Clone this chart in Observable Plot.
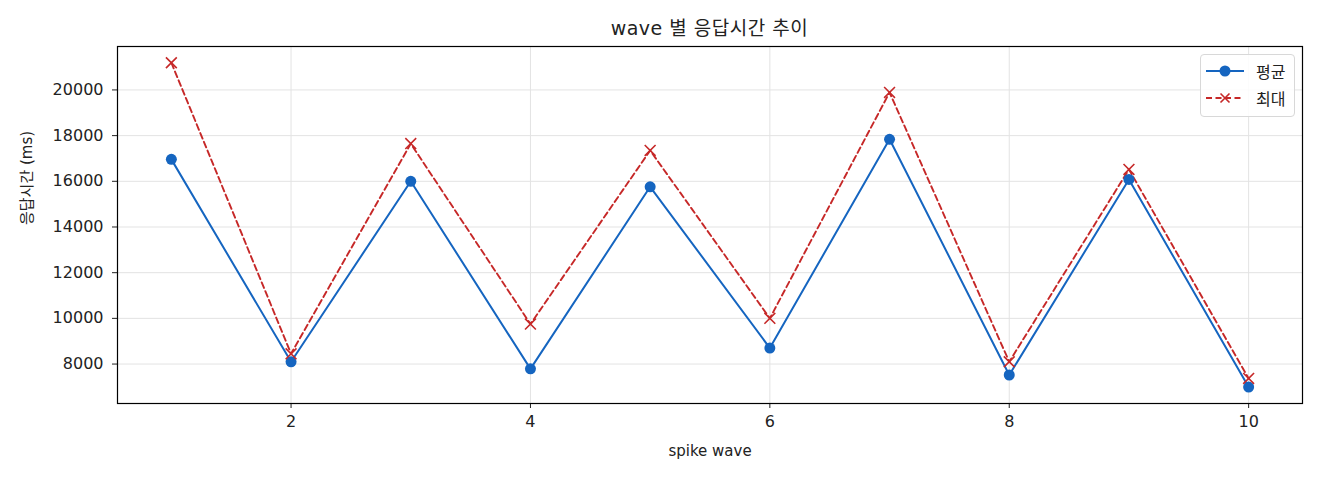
<!DOCTYPE html>
<html>
<head>
<meta charset="utf-8">
<script src="https://cdn.jsdelivr.net/npm/d3@7"></script>
<script src="https://cdn.jsdelivr.net/npm/@observablehq/plot@0.6"></script>
<style>
  body { margin: 0; background: #fff; }
  #wrap { position: relative; width: 1320px; height: 480px; font-family: "DejaVu Sans", "Noto Sans CJK KR", sans-serif; color: #222; }
  #title { position: absolute; left: 0; width: 1419px; top: 16px; text-align: center; font-size: 19px; line-height: 24px; letter-spacing: 0.5px; }
  #chart { position: absolute; left: 0; top: 40px; }
  #legend { position: absolute; left: 1200px; top: 54px; width: 93px; height: 61px; border: 1px solid #d8d8d8; border-radius: 4px; background: rgba(255,255,255,0.85); font-size: 16px; }
  .row { position: absolute; left: 0; height: 22px; display: flex; align-items: center; }
  .row svg { margin-left: 5px; }
  .row span { margin-left: 12px; font-family: "Noto Sans CJK KR", sans-serif; }
</style>
</head>
<body>
<div id="wrap">
  <div id="title">wave 별 응답시간 추이</div>
  <div id="chart"></div>
  <div id="legend">
    <div class="row" style="top:5px"><svg width="38" height="12"><line x1="0" y1="6" x2="38" y2="6" stroke="#1565c0" stroke-width="2"/><circle cx="19" cy="6" r="5.5" fill="#1565c0"/></svg><span>평균</span></div>
    <div class="row" style="top:32px"><svg width="38" height="12"><line x1="0" y1="6" x2="38" y2="6" stroke="#c62828" stroke-width="2" stroke-dasharray="6,3.5"/><path d="M14.5 1.5 L23.5 10.5 M23.5 1.5 L14.5 10.5" stroke="#c62828" stroke-width="1.6"/></svg><span>최대</span></div>
  </div>
</div>
<script>
const waves = [1, 2, 3, 4, 5, 6, 7, 8, 9, 10];
const avgMs = [16960, 8100, 16000, 7790, 15760, 8700, 17840, 7520, 16080, 6990];
const maxMs = [21190, 8450, 17650, 9750, 17350, 10000, 19890, 8100, 16520, 7370];
const xTicks = [2, 4, 6, 8, 10];
const yTicks = [8000, 10000, 12000, 14000, 16000, 18000, 20000];
const xLabel = "spike wave";
const yLabel = "응답시간 (ms)";

const avgData = waves.map((w, i) => ({wave: w, ms: avgMs[i]}));
const maxData = waves.map((w, i) => ({wave: w, ms: maxMs[i]}));

const blue = "#1565c0", red = "#c62828";
const font = "'DejaVu Sans', 'Noto Sans CJK KR', sans-serif";

const chart = Plot.plot({
  width: 1320,
  height: 440,
  marginLeft: 117,
  marginRight: 18,
  marginTop: 6,
  marginBottom: 77,
  style: { fontFamily: font, fontSize: "16px", color: "#222", background: "transparent" },
  x: { domain: [0.55, 10.45] },
  y: { domain: [6273, 21901] },
  marks: [
    Plot.gridX(xTicks, { stroke: "#e3e3e3", strokeOpacity: 1, strokeWidth: 1 }),
    Plot.gridY(yTicks, { stroke: "#e3e3e3", strokeOpacity: 1, strokeWidth: 1 }),
    Plot.axisX(xTicks, { tickSize: 5, tickPadding: 7, label: null, fontSize: 16, tickFormat: d3.format("d") }),
    Plot.axisY(yTicks, { tickSize: 5, tickPadding: 9, label: null, fontSize: 16, tickFormat: d3.format("d") }),
    Plot.line(maxData, { x: "wave", y: "ms", stroke: red, strokeWidth: 1.9, strokeDasharray: "6,3.5" }),
    Plot.line(avgData, { x: "wave", y: "ms", stroke: blue, strokeWidth: 2 }),
    Plot.dot(avgData, { x: "wave", y: "ms", fill: blue, r: 5.5 }),
    Plot.dot(maxData, { x: "wave", y: "ms", symbol: "times", stroke: red, strokeWidth: 1.6, r: 5 }),
    Plot.frame({ stroke: "#000", strokeWidth: 1.2 }),
    Plot.text([xLabel], { frameAnchor: "bottom", dy: 48, text: d => d, fontSize: 15, lineAnchor: "middle", fill: "#222" }),
    Plot.text([yLabel], { frameAnchor: "left", dx: -90, rotate: -90, text: d => d, fontSize: 15, lineAnchor: "middle", fill: "#222" })
  ]
});
document.getElementById("chart").appendChild(chart);
</script>
</body>
</html>
